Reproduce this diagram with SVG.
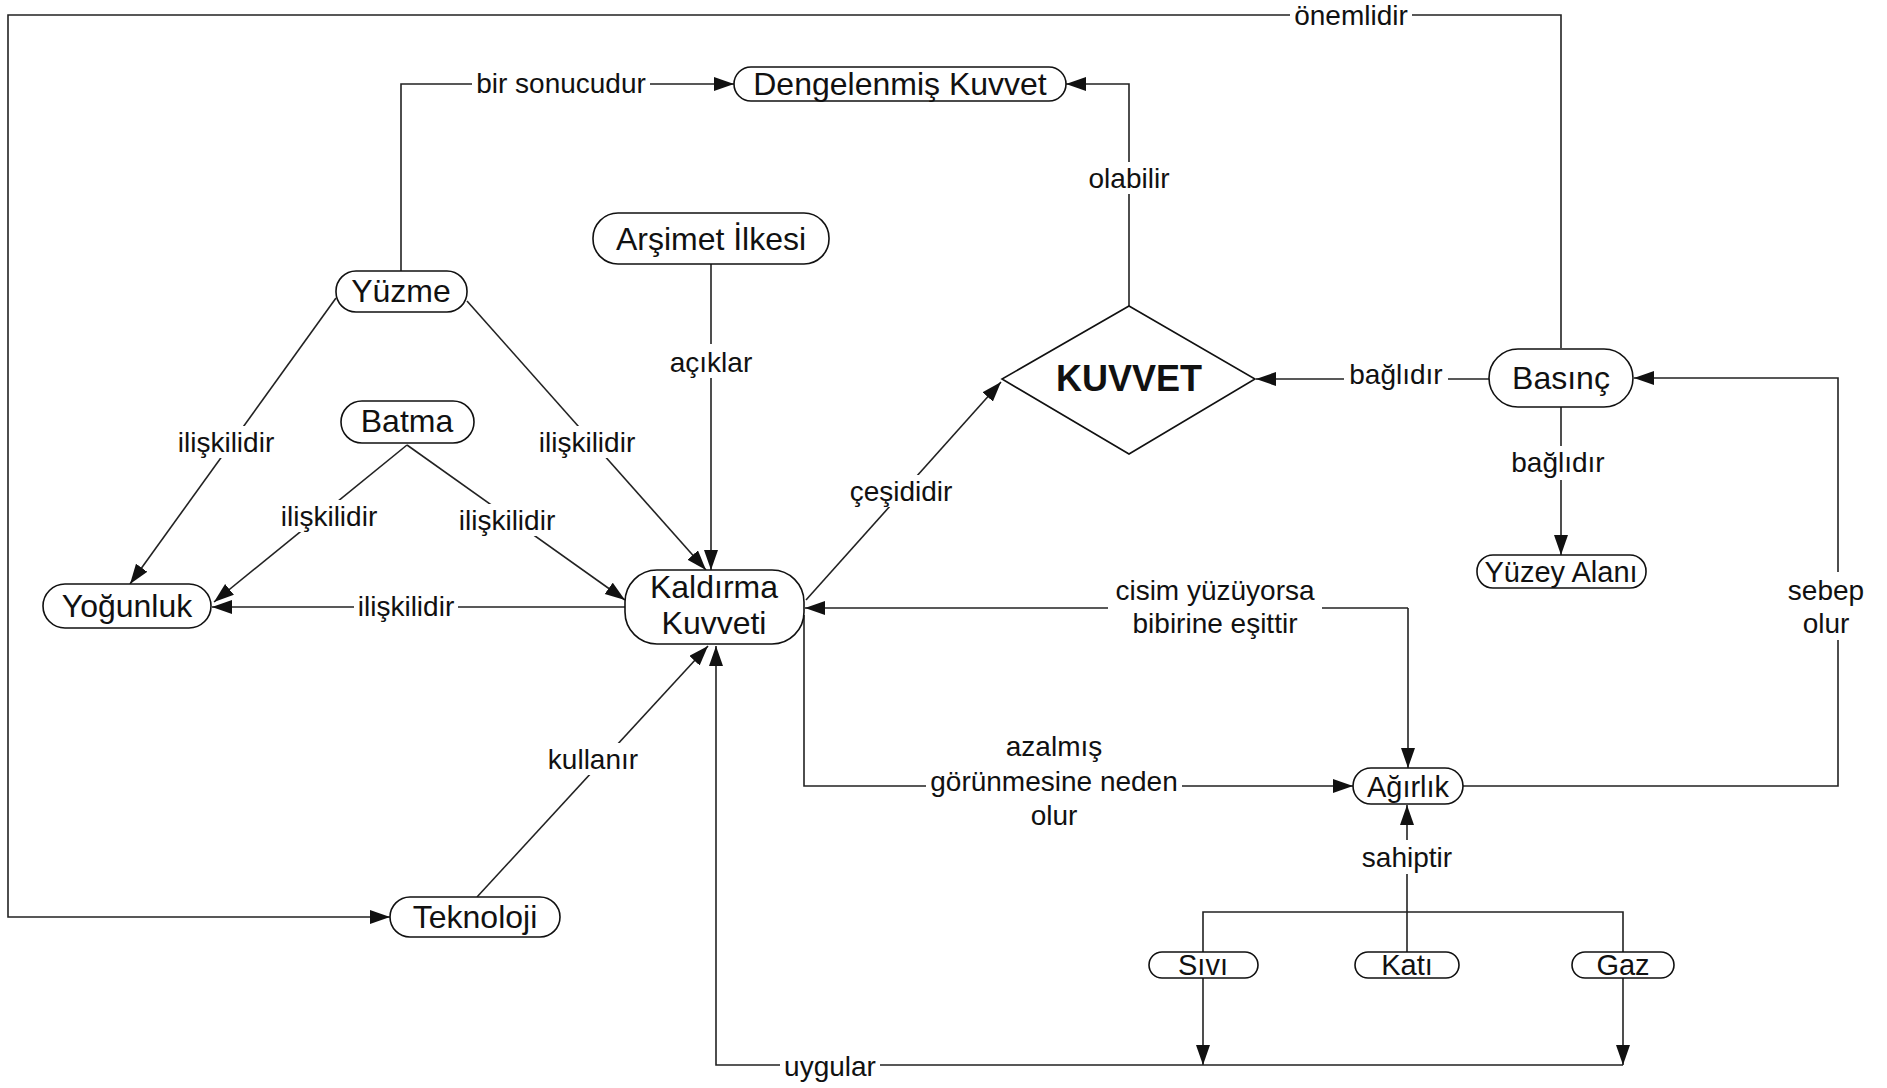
<svg xmlns="http://www.w3.org/2000/svg" width="1887" height="1088" viewBox="0 0 1887 1088">
<style>
.n rect,.n polygon{fill:#fff;stroke:#111;stroke-width:1.6}
.n text{font-family:"Liberation Sans",Arial,sans-serif;font-size:32px;fill:#111;text-anchor:middle}
.n text.s{font-size:29px}
.n text.b{font-size:36px;font-weight:bold}
.c path{fill:none;stroke:#222;stroke-width:1.6}
.c rect{fill:#fff;stroke:none}
.c text{font-family:"Liberation Sans",Arial,sans-serif;font-size:28px;fill:#111;text-anchor:middle}
</style>
<defs>
<marker id="a" markerUnits="userSpaceOnUse" markerWidth="22" markerHeight="16" refX="20" refY="7" orient="auto"><path d="M0,0 L20,7 L0,14 z" fill="#111"/></marker>
</defs>
<rect width="1887" height="1088" fill="#fff"/>
<g class="c">
<path d="M1561,348 V15 H8 V917 H390" marker-end="url(#a)"/>
<path d="M401,271 V84 H734" marker-end="url(#a)"/>
<path d="M1129,306 V84 H1066" marker-end="url(#a)"/>
<path d="M711,264 V570" marker-end="url(#a)"/>
<path d="M336,298 L130,584" marker-end="url(#a)"/>
<path d="M467,301 L706,570" marker-end="url(#a)"/>
<path d="M407,445 L214,602" marker-end="url(#a)"/>
<path d="M407,445 L625,600" marker-end="url(#a)"/>
<path d="M625,607 H212" marker-end="url(#a)"/>
<path d="M477,897 L708,646" marker-end="url(#a)"/>
<path d="M806,600 L1001,382" marker-end="url(#a)"/>
<path d="M1489,379 H1256" marker-end="url(#a)"/>
<path d="M1561,406 V555" marker-end="url(#a)"/>
<path d="M1408,608 H805" marker-end="url(#a)"/>
<path d="M1408,608 V768" marker-end="url(#a)"/>
<path d="M804,615 V786 H1353" marker-end="url(#a)"/>
<path d="M1463,786 H1838 V378 H1634" marker-end="url(#a)"/>
<path d="M1407,952 V805" marker-end="url(#a)"/>
<path d="M1203,952 V912 H1623 V952"/>
<path d="M1203,978 V1065" marker-end="url(#a)"/>
<path d="M1623,978 V1065" marker-end="url(#a)"/>
<path d="M1623,1065 H716 V646" marker-end="url(#a)"/>
<rect x="1290" y="2" width="122" height="28"/><text x="1351" y="25">önemlidir</text>
<rect x="472" y="70" width="178" height="28"/><text x="561" y="93">bir sonucudur</text>
<rect x="1080" y="162" width="98" height="32"/><text x="1129" y="188">olabilir</text>
<rect x="664" y="344" width="94" height="34"/><text x="711" y="372">açıklar</text>
<rect x="174" y="426" width="104" height="32"/><text x="226" y="452">ilişkilidir</text>
<rect x="535" y="426" width="104" height="32"/><text x="587" y="452">ilişkilidir</text>
<rect x="277" y="500" width="104" height="32"/><text x="329" y="526">ilişkilidir</text>
<rect x="455" y="504" width="104" height="32"/><text x="507" y="530">ilişkilidir</text>
<rect x="354" y="591" width="104" height="30"/><text x="406" y="616">ilişkilidir</text>
<rect x="543" y="743" width="100" height="32"/><text x="593" y="769">kullanır</text>
<rect x="848" y="475" width="106" height="32"/><text x="901" y="501">çeşididir</text>
<rect x="1344" y="362" width="104" height="30"/><text x="1396" y="384">bağlıdır</text>
<rect x="1506" y="446" width="104" height="34"/><text x="1558" y="472">bağlıdır</text>
<rect x="1108" y="572" width="214" height="68"/><text x="1215" y="600">cisim yüzüyorsa</text><text x="1215" y="633">bibirine eşittir</text>
<rect x="926" y="728" width="256" height="104"/><text x="1054" y="756">azalmış</text><text x="1054" y="791">görünmesine neden</text><text x="1054" y="825">olur</text>
<rect x="1356" y="840" width="102" height="34"/><text x="1407" y="867">sahiptir</text>
<rect x="1792" y="572" width="68" height="68"/><text x="1826" y="600">sebep</text><text x="1826" y="633">olur</text>
<rect x="780" y="1052" width="100" height="30"/><text x="830" y="1076">uygular</text>
</g>
<g class="n" id="dengelenmis"><rect x="734" y="67" width="332" height="34" rx="17"/><text x="900" y="95">Dengelenmiş Kuvvet</text></g>
<g class="n" id="arsimet"><rect x="593" y="213" width="236" height="51" rx="25"/><text x="711" y="250">Arşimet İlkesi</text></g>
<g class="n" id="yuzme"><rect x="336" y="271" width="131" height="41" rx="20"/><text x="401" y="302">Yüzme</text></g>
<g class="n" id="batma"><rect x="341" y="401" width="133" height="42" rx="21"/><text x="407" y="432">Batma</text></g>
<g class="n" id="yogunluk"><rect x="43" y="584" width="168" height="44" rx="22"/><text x="127" y="617">Yoğunluk</text></g>
<g class="n" id="kaldirma"><rect x="625" y="570" width="179" height="74" rx="32"/><text x="714" y="598">Kaldırma</text><text x="714" y="634">Kuvveti</text></g>
<g class="n" id="kuvvet"><polygon points="1129,306 1255,379 1129,454 1002,379"/><text class="b" x="1129" y="391">KUVVET</text></g>
<g class="n" id="basinc"><rect x="1489" y="349" width="144" height="58" rx="29"/><text x="1561" y="389">Basınç</text></g>
<g class="n" id="yuzey"><rect x="1477" y="555" width="169" height="33" rx="16"/><text class="s" x="1561" y="582">Yüzey Alanı</text></g>
<g class="n" id="agirlik"><rect x="1353" y="768" width="110" height="36" rx="18"/><text class="s" x="1408" y="797">Ağırlık</text></g>
<g class="n" id="teknoloji"><rect x="390" y="897" width="170" height="40" rx="20"/><text x="475" y="928">Teknoloji</text></g>
<g class="n" id="sivi"><rect x="1149" y="952" width="109" height="26" rx="13"/><text class="s" x="1203" y="975">Sıvı</text></g>
<g class="n" id="kati"><rect x="1355" y="952" width="104" height="26" rx="13"/><text class="s" x="1407" y="975">Katı</text></g>
<g class="n" id="gaz"><rect x="1572" y="952" width="102" height="26" rx="13"/><text class="s" x="1623" y="975">Gaz</text></g>
</svg>
